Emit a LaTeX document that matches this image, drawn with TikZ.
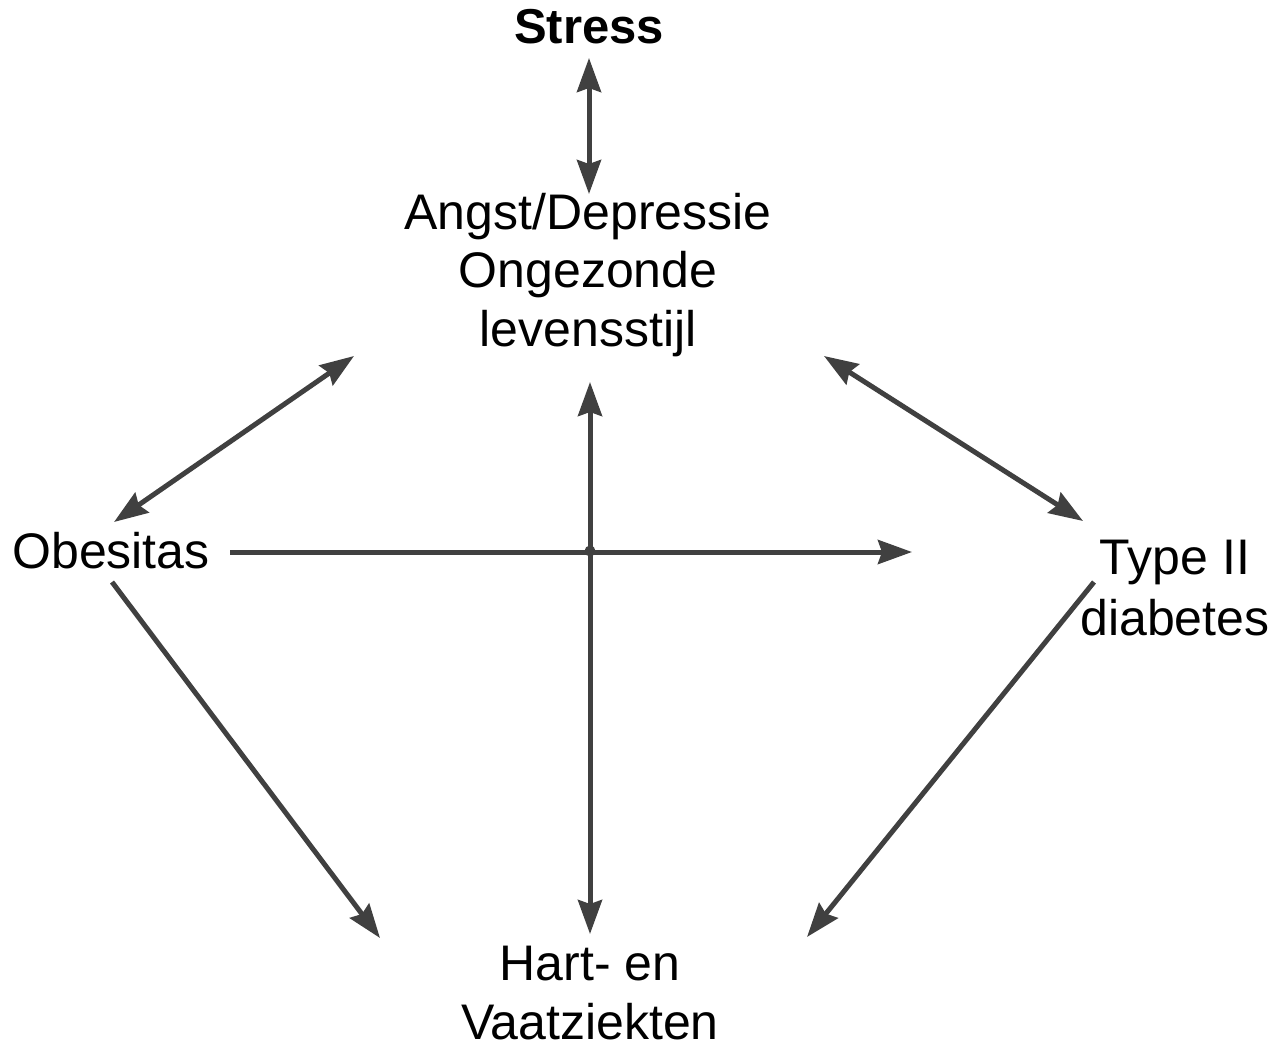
\documentclass[tikz,border=0pt]{standalone}
\usepackage{fontspec}
\setmainfont{Liberation Sans}
\usetikzlibrary{arrows.meta}
\definecolor{linkgray}{HTML}{404040}
\begin{document}
\begin{tikzpicture}[x=1pt,y=-1pt,
  label/.style={inner sep=0pt, align=center, anchor=base,
    font=\fontsize{50}{60}\selectfont},
  link/.style={draw=linkgray, line width=5pt,
    arrows={-Stealth[length=34pt,width=24pt,inset=4pt]}},
  biglink/.style={link, arrows={Stealth[length=34pt,width=24pt,inset=4pt]-Stealth[length=34pt,width=24pt,inset=4pt]}}]
  \useasboundingbox (0,0) rectangle (1273,1044);

  % labels (base anchor sits on the last line's baseline)
  \node[label, font=\fontsize{49}{58}\selectfont\bfseries] (stress) at (589,43) {Stress};
  \node[label, font=\fontsize{50}{58.5}\selectfont] (angst) at (588,346) {Angst/Depressie\\Ongezonde\\levensstijl};
  \node[label] (obes) at (111,568) {Obesitas};
  \node[label, font=\fontsize{50}{61}\selectfont] (diab) at (1175,635) {Type II\\diabetes};
  \node[label, font=\fontsize{50}{59}\selectfont] (hart) at (590,1039) {Hart- en\\Vaatziekten};

  % connector end points
  \coordinate (stressS) at (589,58);
  \coordinate (angstN)  at (589,194);
  \coordinate (angstW)  at (354,356);
  \coordinate (obesNE)  at (114,522);
  \coordinate (angstE)  at (824,356);
  \coordinate (diabNW)  at (1083,521);
  \coordinate (obesE)   at (230,552);
  \coordinate (hEnd)    at (912,552);
  \coordinate (angstS)  at (590,382);
  \coordinate (hartN)   at (590,934);
  \coordinate (obesSE)  at (112,582);
  \coordinate (hartNW)  at (380,938);
  \coordinate (diabSW)  at (1094,582);
  \coordinate (hartNE)  at (807,937);
  \coordinate (cross)   at (590,551);

  % connectors
  \draw[biglink] (stressS) -- (angstN);
  \draw[biglink] (angstW) -- (obesNE);
  \draw[biglink] (angstE) -- (diabNW);
  \draw[link] (obesE) -- (hEnd);
  \draw[biglink] (angstS) -- (hartN);
  \draw[link] (obesSE) -- (hartNW);
  \draw[link] (diabSW) -- (hartNE);
  \fill[linkgray] (cross) circle (5.5);
\end{tikzpicture}
\end{document}
